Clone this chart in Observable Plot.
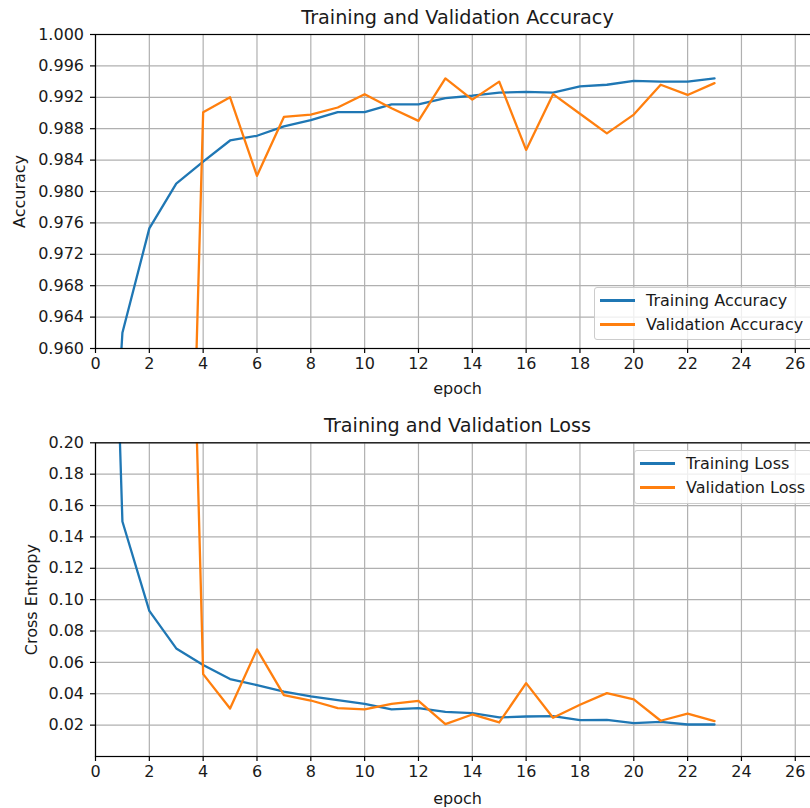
<!DOCTYPE html>
<html><head><meta charset="utf-8">
<script src="https://cdn.jsdelivr.net/npm/d3@7"></script>
<script src="https://cdn.jsdelivr.net/npm/@observablehq/plot@0.6"></script>
<style>
body{margin:0;background:#fff;}
#wrap{position:relative;width:810px;height:808px;overflow:hidden;font-family:"DejaVu Sans";}
.panel{position:absolute;left:0;width:820px;}
.panel svg{max-width:none !important;}
.legend{position:absolute;border:1px solid #cccccc;border-radius:3px;background:rgba(255,255,255,0.8);font-size:16px;color:#1a1a1a;box-sizing:border-box;}
.legend .sw{position:absolute;height:2.3px;width:35px;}
.legend .lt{position:absolute;white-space:nowrap;line-height:20px;}
</style></head>
<body>
<div id="wrap">
  <div class="panel" id="p1" style="top:0"></div>
  <div class="panel" id="p2" style="top:400px"></div>
</div>
<script>
const epochs = [0,1,2,3,4,5,6,7,8,9,10,11,12,13,14,15,16,17,18,19,20,21,22,23];
const trainAcc = [0.905,0.9620,0.9753,0.9810,0.9838,0.9865,0.9871,0.9883,0.9891,0.9901,0.9901,0.9911,0.9911,0.9919,0.9922,0.9926,0.9927,0.9926,0.9934,0.9936,0.9941,0.9940,0.9940,0.9944];
const valAcc = [0.89,0.91,0.90,0.867,0.9901,0.9920,0.9820,0.9895,0.9898,0.9907,0.9924,0.9906,0.9890,0.9944,0.9917,0.9940,0.9853,0.9924,0.9899,0.9874,0.9898,0.9936,0.9923,0.9938];
const trainLoss = [0.70,0.1498,0.0928,0.0689,0.0583,0.0494,0.0455,0.0413,0.0383,0.0360,0.0336,0.0300,0.0309,0.0285,0.0277,0.0249,0.0255,0.0257,0.0232,0.0234,0.0213,0.0221,0.0204,0.0204];
const valLoss = [0.40,0.35,0.45,0.695,0.0525,0.0306,0.0683,0.0391,0.0357,0.0309,0.0300,0.0336,0.0355,0.0206,0.0268,0.0217,0.0468,0.0247,0.0330,0.0404,0.0364,0.0228,0.0274,0.0226];

const xTicks = [0,2,4,6,8,10,12,14,16,18,20,22,24,26];
const accTicks = [0.960,0.964,0.968,0.972,0.976,0.980,0.984,0.988,0.992,0.996,1.000];
const lossTicks = [0.02,0.04,0.06,0.08,0.10,0.12,0.14,0.16,0.18,0.20];

const accTitle = "Training and Validation Accuracy";
const lossTitle = "Training and Validation Loss";
const accLabel = "Accuracy";
const lossLabel = "Cross Entropy";
const xLabel = "epoch";
const accSeries = ["Training Accuracy","Validation Accuracy"];
const lossSeries = ["Training Loss","Validation Loss"];
const colors = ["#1f77b4","#ff7f0e"];

const TXT = "#1a1a1a";

function panel({a, b, yDomain, yTicks, yFmt, title, ylab, ylabDx, height, mTop, titleDy, xlabDy}) {
  const A = epochs.map((e,i)=>({epoch:e, v:a[i]}));
  const B = epochs.map((e,i)=>({epoch:e, v:b[i]}));
  return Plot.plot({
    width: 820, height,
    marginLeft: 95, marginRight: 1, marginTop: mTop, marginBottom: 52,
    style: {fontFamily: "DejaVu Sans", fontSize: "16px", color: TXT, background: "white", overflow: "visible", maxWidth: "none"},
    x: {domain: [0, 26.9]},
    y: {domain: yDomain},
    marks: [
      Plot.gridX(xTicks, {stroke: "#b0b0b0", strokeOpacity: 1, strokeWidth: 1.2}),
      Plot.gridY(yTicks, {stroke: "#b0b0b0", strokeOpacity: 1, strokeWidth: 1.2}),
      Plot.line(A, {x: "epoch", y: "v", stroke: colors[0], strokeWidth: 2.3, clip: true}),
      Plot.line(B, {x: "epoch", y: "v", stroke: colors[1], strokeWidth: 2.3, clip: true}),
      Plot.frame({stroke: "#000", strokeWidth: 1.2}),
      Plot.axisX({ticks: xTicks, tickSize: 5, tickPadding: 4, tickFormat: d3.format("d"), label: null, fill: TXT, stroke: "#000", strokeWidth: 1.2}),
      Plot.axisY({ticks: yTicks, tickSize: 5, tickPadding: 6.5, tickFormat: yFmt, label: null, fill: TXT, stroke: "#000", strokeWidth: 1.2}),
      Plot.text([title], {text: d=>d, frameAnchor: "top", dy: titleDy, lineAnchor: "middle", fontSize: 19.2, fill: TXT}),
      Plot.text([ylab], {text: d=>d, frameAnchor: "left", dx: ylabDx, rotate: -90, textAnchor: "middle", lineAnchor: "middle", fill: TXT}),
      Plot.text([xLabel], {text: d=>d, frameAnchor: "bottom", dy: xlabDy, lineAnchor: "middle", fill: TXT})
    ]
  });
}

document.getElementById("p1").appendChild(panel({
  a: trainAcc, b: valAcc, yDomain: [0.96, 1.0], yTicks: accTicks, yFmt: d3.format(".3f"),
  title: accTitle, ylab: accLabel, ylabDx: -75.5, height: 400, mTop: 34, titleDy: -16.5, xlabDy: 40.5
}));
document.getElementById("p2").appendChild(panel({
  a: trainLoss, b: valLoss, yDomain: [0, 0.2], yTicks: lossTicks, yFmt: d3.format(".2f"),
  title: lossTitle, ylab: lossLabel, ylabDx: -64, height: 408, mTop: 42.3, titleDy: -17.3, xlabDy: 42
}));

function legend(names, left, top, width, height) {
  const box = document.createElement("div");
  box.className = "legend";
  Object.assign(box.style, {left: left+"px", top: top+"px", width: width+"px", height: height+"px"});
  names.forEach((n,i)=>{
    const cy = 12.5 + i*24;
    const sw = document.createElement("div");
    sw.className = "sw";
    Object.assign(sw.style, {left: "5px", top: (cy-1.15)+"px", background: colors[i]});
    const t = document.createElement("div");
    t.className = "lt";
    t.textContent = n;
    Object.assign(t.style, {left: "51px", top: (cy-10)+"px"});
    box.appendChild(sw); box.appendChild(t);
  });
  document.getElementById("wrap").appendChild(box);
}
legend(accSeries, 594, 287, 218, 53);
legend(lossSeries, 634, 450, 178, 54);
</script>
</body></html>
